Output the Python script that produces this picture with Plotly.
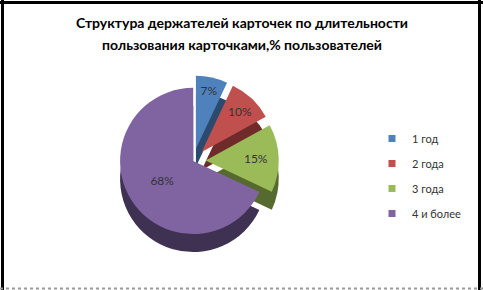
import plotly.graph_objects as go

categories = ["1 год", "2 года", "3 года", "4 и более"]
values = [7, 10, 15, 68]
colors = ["#4F81BD", "#C0504D", "#9BBB59", "#8064A2"]
side_colors = ["#2C4A6E", "#6E2B29", "#56692F", "#3F3152"]
pulls = [0.17, 0.17, 0.17, 0]

W, H = 483, 290
dom_x = [0.15, 0.65]
dom_y = [0.15, 0.74]
depth = 18 / H
FONT = "Lato"

fig = go.Figure()
fig.add_trace(go.Pie(
    labels=categories, values=values, sort=False, direction="clockwise", rotation=0,
    pull=pulls, marker=dict(colors=side_colors, line=dict(width=0)),
    domain=dict(x=dom_x, y=[dom_y[0] - depth, dom_y[1] - depth]),
    textinfo="none", hoverinfo="skip", showlegend=False,
))
fig.add_trace(go.Pie(
    labels=categories, values=values, sort=False, direction="clockwise", rotation=0,
    pull=pulls, marker=dict(colors=colors, line=dict(width=0)),
    domain=dict(x=dom_x, y=dom_y),
    texttemplate="%{value}%", textposition="inside", insidetextorientation="horizontal",
    textfont=dict(family=FONT, size=12, color="#333333"),
    showlegend=False,
))
for c, col in zip(categories, colors):
    fig.add_trace(go.Scatter(
        x=[None], y=[None], mode="markers", name=c, legendgroup=c,
        marker=dict(symbol="square", size=7, color=col),
    ))

shapes = [
    dict(type="rect", xref="paper", yref="paper", x0=1 / W, x1=4 / W, y0=0, y1=1,
         fillcolor="black", line=dict(width=0)),
    dict(type="rect", xref="paper", yref="paper", x0=0, x1=1, y0=1 - 4 / H, y1=1 - 1 / H,
         fillcolor="black", line=dict(width=0)),
    dict(type="rect", xref="paper", yref="paper", x0=478 / W, x1=481 / W, y0=0, y1=1,
         fillcolor="black", line=dict(width=0)),
    dict(type="line", xref="paper", yref="paper", x0=0, x1=1, y0=1.5 / H, y1=1.5 / H,
         line=dict(color="#999999", width=2, dash="dot")),
]

fig.update_layout(
    width=W, height=H, margin=dict(l=0, r=0, t=0, b=0),
    paper_bgcolor="white", plot_bgcolor="rgba(0,0,0,0)",
    xaxis=dict(visible=False, range=[0, 1], fixedrange=True),
    yaxis=dict(visible=False, range=[0, 1], fixedrange=True),
    showlegend=True,
    legend=dict(x=372 / W, y=1 - 124 / H, xanchor="left", yanchor="top",
                font=dict(family=FONT, size=11, color="#333333"),
                tracegroupgap=6, itemwidth=30, bgcolor="rgba(0,0,0,0)"),
    shapes=shapes,
    annotations=[
        dict(text="<b>Структура держателей карточек по длительности</b>", x=242 / W, y=1 - 22 / H,
             xref="paper", yref="paper", showarrow=False, xanchor="center", yanchor="middle",
             font=dict(family=FONT, size=14, color="black")),
        dict(text="<b>пользования карточками,% пользователей</b>", x=242 / W, y=1 - 45 / H,
             xref="paper", yref="paper", showarrow=False, xanchor="center", yanchor="middle",
             font=dict(family=FONT, size=14, color="black")),
    ],
)

fig.write_html("out.html")
